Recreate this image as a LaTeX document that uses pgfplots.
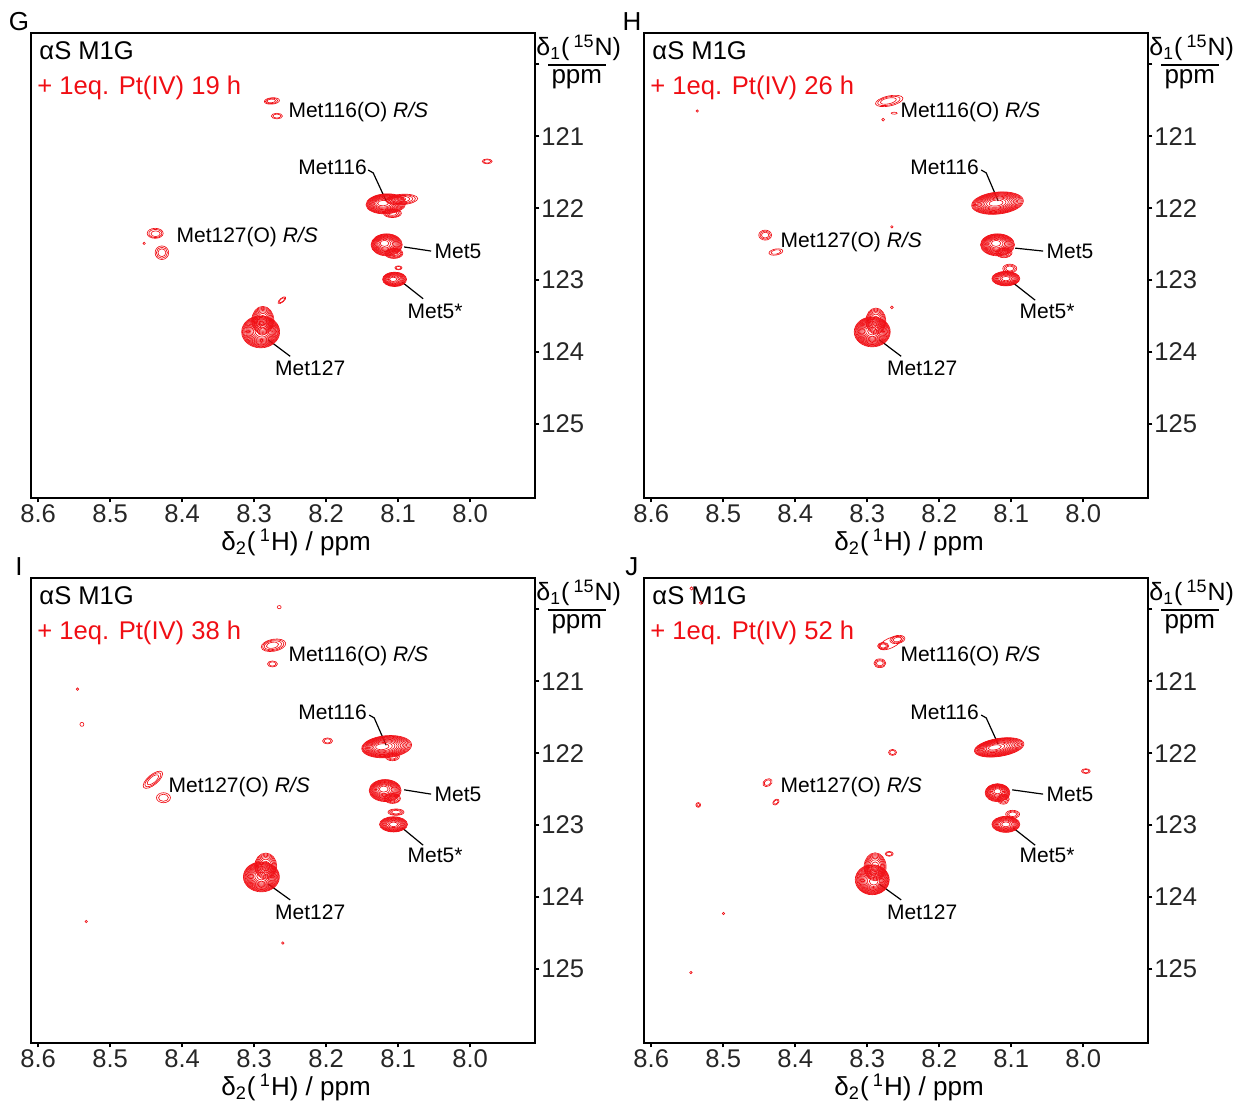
\documentclass[border=0pt]{standalone}
\usepackage{fontspec}
\setmainfont{Liberation Sans}
\usepackage{pgfplots}
\pgfplotsset{compat=1.18}
\usepackage{pgfplotstable}

\definecolor{spec}{RGB}{240,14,20}

% a cross peak: stack of nested contour ellipses, denser towards the rim
\pgfdeclareplotmark{peak}{%
  \pgfsetstrokecolor{spec}%
  \pgfsetlinewidth{0.32pt}%
  \pgfmathtruncatemacro\pkN{\pkn}%
  \foreach \k in {1,...,\pkN}{%
    \pgfmathsetmacro\pkf{sqrt(1-(\k-1)/\pkN)}%
    \pgfmathsetmacro\pkcx{(1-\pkf)*\pkox}%
    \pgfmathsetmacro\pkcy{(1-\pkf)*\pkoy}%
    \pgfmathsetmacro\pkax{\pkf*\pkrx*cos(\pkang)}%
    \pgfmathsetmacro\pkay{\pkf*\pkrx*sin(\pkang)}%
    \pgfmathsetmacro\pkbx{-\pkf*\pkry*sin(\pkang)}%
    \pgfmathsetmacro\pkby{\pkf*\pkry*cos(\pkang)}%
    \pgfpathellipse{\pgfpoint{\pkcx pt}{\pkcy pt}}%
      {\pgfpoint{\pkax pt}{\pkay pt}}{\pgfpoint{\pkbx pt}{\pkby pt}}%
    \pgfusepathqstroke
  }%
}

\pgfplotsset{
  nmr/.style={
    scale only axis, width=252pt, height=232.5pt,
    xmin=7.91, xmax=8.61, ymin=119.565, ymax=126.03,
    x dir=reverse, y dir=reverse,
    axis line style={line width=0.9pt},
    xtick={8.0,8.1,8.2,8.3,8.4,8.5,8.6},
    xticklabels={8.0,8.1,8.2,8.3,8.4,8.5,8.6},
    ytick={120,121,122,123,124,125},
    yticklabels={,121,122,123,124,125},
    xtick pos=bottom, ytick pos=right, yticklabel pos=right,
    tick align=outside, major tick length=2.2pt,
    tick style={line width=0.8pt, black},
    ticklabel style={font=\fontsize{12.8}{13}\selectfont, text=black!85},
    xticklabel style={yshift=2.5pt},
    yticklabel style={xshift=-2.5pt},
    clip=false, anchor=north west,
  },
  peaks/.style={
    scatter, only marks, mark=peak,
    scatter/@pre marker code/.code={\pgfscope},
    scatter/@post marker code/.code={\endpgfscope},
    visualization depends on={\thisrow{rx}\as\pkrx},
    visualization depends on={\thisrow{ry}\as\pkry},
    visualization depends on={\thisrow{ang}\as\pkang},
    visualization depends on={\thisrow{n}\as\pkn},
    visualization depends on={\thisrow{ox}\as\pkox},
    visualization depends on={\thisrow{oy}\as\pkoy},
  },
}
\tikzset{
  lab/.style={font=\fontsize{10.5}{12}\selectfont, inner sep=0pt},
  lead/.style={line width=0.6pt, black},
  big/.style={font=\fontsize{12.8}{14}\selectfont, inner sep=0pt},
  axl/.style={font=\fontsize{12.5}{14}\selectfont, inner sep=0pt},
}

% peak tables: x = delta 1H (ppm), y = delta 15N (ppm), contour half-axes (pt), tilt, levels, core offset
\pgfplotstableread{
x y rx ry ang n ox oy
8.2754 120.51 3.8 1.6 5 3 -0.8 0
8.2685 120.72 2.8 1.4 0 2 0 0
8.117 121.94 10 5 3 13 -2 0.5
8.095 121.88 8 2.6 4 5 -3 0
8.108 122.07 4.5 2.2 0 4 0 0
8.116 122.51 7.8 5.5 0 13 -1.5 1
8.106 122.63 4.5 2.5 0 5 0 0
8.0996 122.83 1.8 1.0 0 2 0 0
8.105 122.99 6 3.6 0 11 -1 0
8.291 123.72 9.5 8 0 15 1 0.5
8.288 123.56 5.5 7 0 8 0 0
8.2615 123.28 2.4 1.0 40 2 0 0
8.4375 122.35 4 2.5 0 3 0.5 -0.5
8.4282 122.62 3.4 3.4 0 3 0 0
8.4528 122.49 0.6 0.6 0 1 0 0
7.9764 121.35 2.5 1.2 0 2 0 0
}\peaksG

\pgfplotstableread{
x y rx ry ang n ox oy
8.2694 120.51 7 2.5 12 3 -1 0
8.2778 120.77 0.7 0.7 0 1 0 0
8.2625 120.68 1.5 0.5 0 1 0 0
8.119 121.93 13 5.5 6 14 -1 0
8.2657 122.26 0.6 0.6 0 1 0 0
8.119 122.51 8.5 5.5 0 13 -1 1
8.11 122.62 4 2.5 0 4 0 0
8.1074 122.98 7 3.6 0 11 0 0
8.102 122.84 3.5 2.2 0 3 0 0
8.293 123.72 9 7.5 0 15 0 0.5
8.288 123.57 5 6.5 0 7 0 0
8.2657 123.38 0.7 0.7 0 1 0 0
8.4417 122.375 3.2 2.5 0 3 0 0
8.4268 122.61 3.5 1.5 10 2 0 0
8.5361 120.65 0.6 0.6 0 1 0 0
}\peaksH

\pgfplotstableread{
x y rx ry ang n ox oy
8.2653 119.97 1 0.8 0 1 0 0
8.2732 120.50 6.2 3 10 4 -1 0
8.2746 120.76 2.5 1.5 0 2 0 0
8.5454 121.11 0.6 0.6 0 1 0 0
8.5393 121.60 1 1 0 1 0 0
8.1981 121.83 2.5 1.5 0 2 0 0
8.116 121.91 12.5 5.5 5 14 -3 0
8.108 122.05 3.5 2 0 3 0 0
8.4407 122.37 6 2.5 40 3 0 0
8.426 122.62 3.5 2.5 0 2 0 0
8.1181 122.52 8 5.5 0 13 -1 1
8.108 122.63 4 2.5 0 4 0 0
8.1065 122.99 7 3.8 0 11 0 0
8.103 122.82 4 1.6 0 3 0 0
8.29 123.72 9 7.5 0 15 0 0.5
8.284 123.57 5.5 6.5 0 7 0 0
8.5333 124.34 0.6 0.6 0 1 0 0
8.2602 124.64 0.6 0.6 0 1 0 0
}\peaksI

\pgfplotstableread{
x y rx ry ang n ox oy
8.544 119.71 0.8 0.8 0 1 0 0
8.531 119.91 0.8 0.8 0 1 0 0
8.2778 120.51 2.8 1.8 0 3 0 0
8.258 120.42 3.8 2 10 3 0 0
8.268 120.47 6 2.5 25 1 0 0
8.2824 120.75 3 2.2 0 3 0 0
8.2648 121.99 2 1.5 0 2 0 0
8.1167 121.92 12.5 4.5 9 14 -3 0
7.9963 122.25 2.2 1.2 0 2 0 0
8.4384 122.41 2.5 1.8 30 2 0 0
8.4268 122.68 1.8 1.2 40 2 0 0
8.5347 122.72 1.2 1.2 0 2 0 0
8.119 122.55 6.2 4.5 0 12 0 1
8.111 122.64 3 2.5 0 3 0 0
8.1074 122.99 7 4 0 11 0 0
8.098 122.85 3.5 2 0 3 0 0
8.293 123.76 8.5 7.5 0 15 1 -1
8.289 123.58 5.5 7 0 8 0 0
8.2694 123.40 2 1.2 0 2 0 0
8.4996 124.23 0.6 0.6 0 1 0 0
8.5449 125.05 0.6 0.6 0 1 0 0
}\peaksJ

% common frame texts of one spectrum panel
\newcommand\panelframe[2]{%
  \node[big, anchor=west] at (axis description cs:0.016,0.963) {αS M1G};
  \node[big, anchor=west, text=spec] at (axis description cs:0.012,0.882) {+ 1eq. Pt(IV) #2};
  \node[font=\fontsize{13}{14}\selectfont, inner sep=0pt] at (axis description cs:-0.024,1.024) {#1};
  \node[axl, anchor=west] at (axis description cs:1.002,0.968) {δ\textsubscript{1}(\,\textsuperscript{\fontsize{9}{9}\selectfont 15}N)};
  \draw[line width=0.8pt] (axis description cs:1.026,0.931) -- (axis description cs:1.141,0.931);
  \node[font=\fontsize{13}{14}\selectfont, inner sep=0pt] at (axis description cs:1.083,0.901) {ppm};
  \node[font=\fontsize{13}{14}\selectfont, inner sep=0pt] at (axis description cs:0.526,-0.095) {δ\textsubscript{2}(\,\textsuperscript{1}H) / ppm};
}

\begin{document}
\begin{tikzpicture}
\path[use as bounding box] (0,0) rectangle (617pt,551pt);

% ---------- G ----------
\begin{axis}[nmr, at={(15.5pt,534.5pt)}]
\addplot[peaks] table {\peaksG};
\panelframe{G}{19 h}
\node[lab, anchor=west] at (axis cs:8.2528,120.667) {Met116(O) \textit{R/S}};
\node[lab, anchor=east] at (axis cs:8.143,121.43) {Met116};
\draw[lead] (axis cs:8.1417,121.47) -- (axis cs:8.1347,121.51) -- (axis cs:8.1167,121.90);
\node[lab, anchor=west] at (axis cs:8.05,122.597) {Met5};
\draw[lead] (axis cs:8.0917,122.54) -- (axis cs:8.0542,122.597);
\node[lab, anchor=west] at (axis cs:8.0875,123.43) {Met5*};
\draw[lead] (axis cs:8.0944,123.03) -- (axis cs:8.0653,123.26);
\node[lab] at (axis cs:8.2222,124.22) {Met127};
\draw[lead] (axis cs:8.2806,123.83) -- (axis cs:8.25,124.06);
\node[lab, anchor=west] at (axis cs:8.4083,122.40) {Met127(O) \textit{R/S}};
\end{axis}

% ---------- H ----------
\begin{axis}[nmr, at={(322pt,534.5pt)}]
\addplot[peaks] table {\peaksH};
\panelframe{H}{26 h}
\node[lab, anchor=west] at (axis cs:8.2542,120.667) {Met116(O) \textit{R/S}};
\node[lab, anchor=east] at (axis cs:8.1444,121.43) {Met116};
\draw[lead] (axis cs:8.1417,121.47) -- (axis cs:8.1347,121.51) -- (axis cs:8.1181,121.90);
\node[lab, anchor=west] at (axis cs:8.0514,122.597) {Met5};
\draw[lead] (axis cs:8.0944,122.556) -- (axis cs:8.0556,122.597);
\node[lab, anchor=west] at (axis cs:8.0889,123.43) {Met5*};
\draw[lead] (axis cs:8.0972,123.04) -- (axis cs:8.0667,123.28);
\node[lab] at (axis cs:8.2236,124.22) {Met127};
\draw[lead] (axis cs:8.2833,123.83) -- (axis cs:8.2528,124.06);
\node[lab, anchor=west] at (axis cs:8.4208,122.47) {Met127(O) \textit{R/S}};
\end{axis}

% ---------- I ----------
\begin{axis}[nmr, at={(15.5pt,262pt)}]
\addplot[peaks] table {\peaksI};
\panelframe{I}{38 h}
\node[lab, anchor=west] at (axis cs:8.2528,120.653) {Met116(O) \textit{R/S}};
\node[lab, anchor=east] at (axis cs:8.143,121.43) {Met116};
\draw[lead] (axis cs:8.1403,121.47) -- (axis cs:8.1333,121.51) -- (axis cs:8.1167,121.89);
\node[lab, anchor=west] at (axis cs:8.05,122.57) {Met5};
\draw[lead] (axis cs:8.0917,122.51) -- (axis cs:8.0542,122.57);
\node[lab, anchor=west] at (axis cs:8.0875,123.42) {Met5*};
\draw[lead] (axis cs:8.0944,123.04) -- (axis cs:8.0653,123.28);
\node[lab] at (axis cs:8.2222,124.21) {Met127};
\draw[lead] (axis cs:8.2806,123.82) -- (axis cs:8.25,124.04);
\node[lab, anchor=west] at (axis cs:8.4194,122.47) {Met127(O) \textit{R/S}};
\end{axis}

% ---------- J ----------
\begin{axis}[nmr, at={(322pt,262pt)}]
\addplot[peaks] table {\peaksJ};
\panelframe{J}{52 h}
\node[lab, anchor=west] at (axis cs:8.2542,120.653) {Met116(O) \textit{R/S}};
\node[lab, anchor=east] at (axis cs:8.1444,121.43) {Met116};
\draw[lead] (axis cs:8.1417,121.47) -- (axis cs:8.1347,121.51) -- (axis cs:8.1181,121.875);
\node[lab, anchor=west] at (axis cs:8.0514,122.57) {Met5};
\draw[lead] (axis cs:8.0986,122.51) -- (axis cs:8.0556,122.57);
\node[lab, anchor=west] at (axis cs:8.0889,123.42) {Met5*};
\draw[lead] (axis cs:8.0972,123.04) -- (axis cs:8.0667,123.28);
\node[lab] at (axis cs:8.2236,124.21) {Met127};
\draw[lead] (axis cs:8.2833,123.82) -- (axis cs:8.2528,124.04);
\node[lab, anchor=west] at (axis cs:8.4208,122.47) {Met127(O) \textit{R/S}};
\end{axis}
\end{tikzpicture}
\end{document}
